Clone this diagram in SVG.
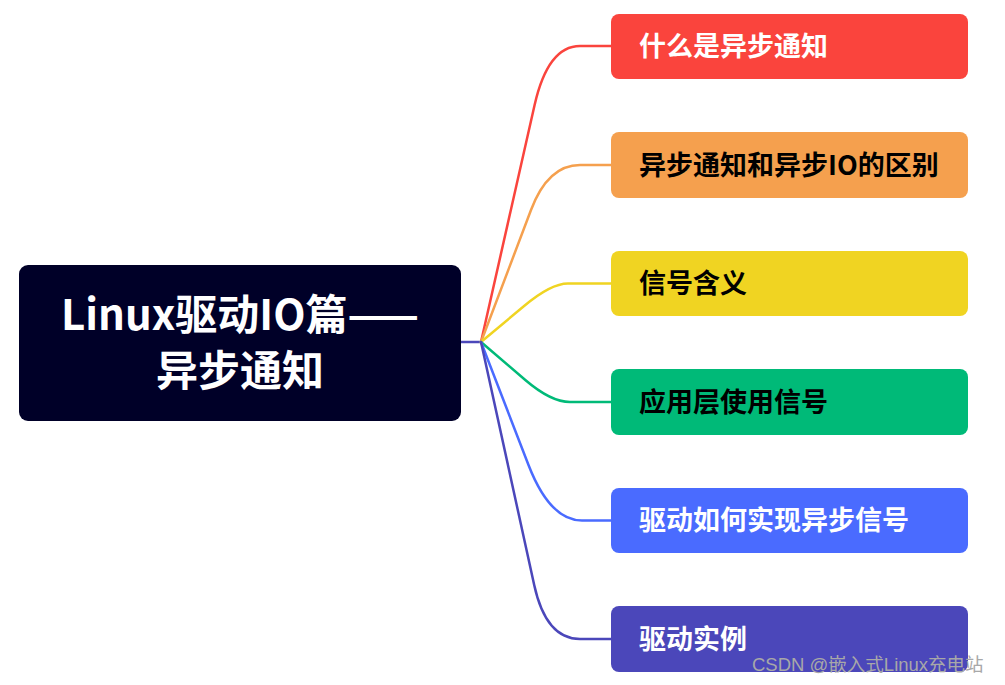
<svg xmlns="http://www.w3.org/2000/svg" width="1005" height="685" viewBox="0 0 1005 685">
<style>
.t{font-family:"Noto Sans CJK SC","Liberation Sans",sans-serif;font-weight:700}
.c{fill:none;stroke-width:2.5;stroke-linecap:round;stroke-linejoin:round}
.n{font-size:27px}
</style>
<rect width="1005" height="685" fill="#ffffff"/>
<g id="connectors">
<path class="c" stroke="#4B47BA" d="M461,342 L481,342"/>
<path class="c" stroke="#FA443D" d="M481,342 L534.6,105 Q548,46 580,46 L611,46"/>
<path class="c" stroke="#F5A04E" d="M481,342 L531,210 Q548,165 580,165 L611,165"/>
<path class="c" stroke="#F0D422" d="M481,342 L524.1,306 Q551,283.5 568,283.5 L611,283.5"/>
<path class="c" stroke="#00BA78" d="M481,342 L525.3,380 Q551,402 570,402 L611,402"/>
<path class="c" stroke="#4A6BFF" d="M481,342 L528.5,465 Q550,520.5 582,520.5 L611,520.5"/>
<path class="c" stroke="#4B47BA" d="M481,342 L534.2,585 Q546,639 580,639 L611,639"/>
</g>
<g id="root">
<rect x="19" y="265" width="442" height="156" rx="9" fill="#000028"/>
<text class="t" x="240" y="330" font-size="42" fill="#ffffff" text-anchor="middle">Linux驱动IO篇——</text>
<text class="t" x="240" y="386" font-size="42" fill="#ffffff" text-anchor="middle">异步通知</text>
</g>
<g id="n1">
<rect x="611" y="14" width="357" height="65" rx="8" fill="#FA443D"/>
<text class="t n" x="639" y="56" fill="#ffffff">什么是异步通知</text>
</g>
<g id="n2">
<rect x="611" y="132" width="357" height="66" rx="8" fill="#F5A04E"/>
<text class="t n" x="639" y="174.5" fill="#000000">异步通知和异步IO的区别</text>
</g>
<g id="n3">
<rect x="611" y="251" width="357" height="65" rx="8" fill="#F0D422"/>
<text class="t n" x="639" y="293" fill="#000000">信号含义</text>
</g>
<g id="n4">
<rect x="611" y="369" width="357" height="66" rx="8" fill="#00BA78"/>
<text class="t n" x="639" y="411.5" fill="#000000">应用层使用信号</text>
</g>
<g id="n5">
<rect x="611" y="488" width="357" height="65" rx="8" fill="#4A6BFF"/>
<text class="t n" x="639" y="530" fill="#ffffff">驱动如何实现异步信号</text>
</g>
<g id="n6">
<rect x="611" y="606" width="357" height="66" rx="8" fill="#4B47BA"/>
<text class="t n" x="639" y="648.5" fill="#ffffff">驱动实例</text>
</g>
<text x="752" y="671" font-family="'Liberation Sans','Noto Sans CJK SC',sans-serif" font-size="18.5" fill="#a8a8a8">CSDN @嵌入式Linux充电站</text>
</svg>
